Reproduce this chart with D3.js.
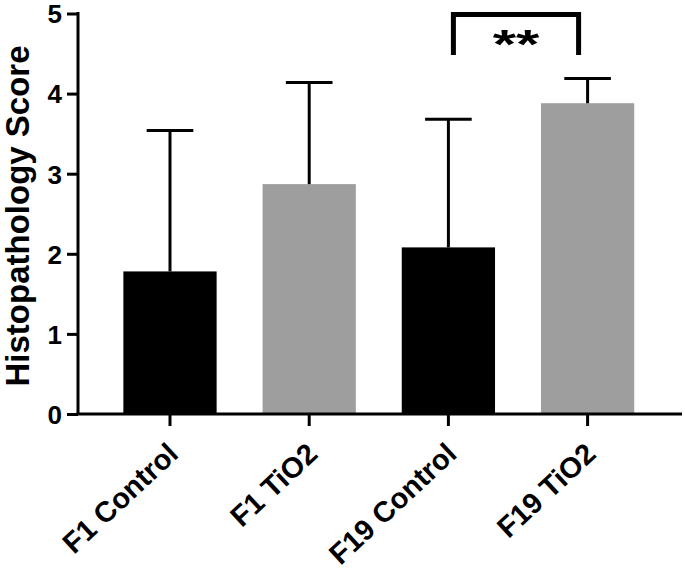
<!DOCTYPE html>
<html>
<head>
<meta charset="utf-8">
<script src="https://cdn.jsdelivr.net/npm/d3@7/dist/d3.min.js"></script>
<style>
  html, body { margin: 0; padding: 0; background: #fff; }
  svg { display: block; }
  text { font-family: "Liberation Sans", Arial, sans-serif; font-weight: bold; fill: #000; }
</style>
</head>
<body>
<svg id="chart" width="685" height="574"></svg>
<script>
const categories = ["F1 Control", "F1 TiO2", "F19 Control", "F19 TiO2"];
const means = [1.78, 2.87, 2.08, 3.88];
const errorTops = [3.54, 4.14, 3.68, 4.19];
const barColors = ["#000000", "#9e9e9e", "#000000", "#9e9e9e"];
const yTicks = [0, 1, 2, 3, 4, 5];
const yTitle = "Histopathology Score";
const sigLabel = "**";
const sigPair = ["F19 Control", "F19 TiO2"];
const sigLevel = 5.0;

const svg = d3.select("#chart");
const axisX = 78, y0px = 414, y5px = 13.5;

const x = d3.scaleBand().domain(categories).range([100.4, 657.2]).paddingInner(0.33).paddingOuter(0.165);
const y = d3.scaleLinear().domain([0, 5]).range([y0px, y5px]);

// bars
svg.selectAll("rect.bar").data(categories).enter().append("rect")
  .attr("class", "bar")
  .attr("x", d => x(d))
  .attr("width", x.bandwidth())
  .attr("y", (d, i) => y(means[i]))
  .attr("height", (d, i) => y(0) - y(means[i]))
  .attr("fill", (d, i) => barColors[i]);

// error bars (upper only)
const capW = x.bandwidth() / 2;
const eb = svg.selectAll("g.err").data(categories).enter().append("g").attr("class", "err");
eb.append("line")
  .attr("x1", d => x(d) + x.bandwidth() / 2).attr("x2", d => x(d) + x.bandwidth() / 2)
  .attr("y1", (d, i) => y(means[i])).attr("y2", (d, i) => y(errorTops[i]))
  .attr("stroke", "#000").attr("stroke-width", 3);
eb.append("line")
  .attr("x1", d => x(d) + x.bandwidth() / 2 - capW / 2).attr("x2", d => x(d) + x.bandwidth() / 2 + capW / 2)
  .attr("y1", (d, i) => y(errorTops[i])).attr("y2", (d, i) => y(errorTops[i]))
  .attr("stroke", "#000").attr("stroke-width", 3);

// y axis
const yAxis = d3.axisLeft(y).tickValues(yTicks).tickFormat(d3.format("d")).tickSize(11).tickSizeOuter(0).tickPadding(5);
const gy = svg.append("g").attr("transform", `translate(${axisX},0)`).call(yAxis);
gy.select(".domain").attr("stroke", "#000").attr("stroke-width", 3).attr("d", `M0,${y(0)}V${y(5) - 1.5}`);
gy.selectAll(".tick line").attr("stroke", "#000").attr("stroke-width", 3);
gy.selectAll(".tick text").style("font-size", "26px").style("font-family", "'Liberation Sans', Arial, sans-serif").style("font-weight", "bold")
  .attr("fill", "#000").attr("dy", "0.36em");

// x axis
const xAxis = d3.axisBottom(x).tickSize(12).tickSizeOuter(0).tickPadding(8);
const gx = svg.append("g").attr("transform", `translate(0,${y0px})`).call(xAxis);
gx.select(".domain").attr("stroke", "#000").attr("stroke-width", 3).attr("d", `M${axisX - 1.5},0H682`);
gx.selectAll(".tick line").attr("stroke", "#000").attr("stroke-width", 3);
gx.selectAll(".tick text")
  .style("font-size", "29px").style("font-family", "'Liberation Sans', Arial, sans-serif").style("font-weight", "bold")
  .attr("fill", "#000")
  .attr("text-anchor", "end")
  .attr("dy", "0")
  .attr("transform", "translate(10,42) rotate(-43)")
  .attr("y", 0).attr("x", 0);

// y title
svg.append("text")
  .attr("transform", `translate(29,216) rotate(-90)`)
  .attr("text-anchor", "middle")
  .style("font-size", "33px")
  .text(yTitle);

// significance bracket
const bx1 = x(sigPair[0]) + x.bandwidth() / 2 + 5;
const bx2 = x(sigPair[1]) + x.bandwidth() / 2 - 9;
const by = 14.5;
const byEnd = 55;
svg.append("path")
  .attr("d", `M${bx1},${byEnd}V${by}H${bx2}V${byEnd}`)
  .attr("fill", "none").attr("stroke", "#000").attr("stroke-width", 5).attr("stroke-linejoin", "miter");
svg.append("text")
  .attr("transform", `translate(${(bx1 + bx2) / 2},58) scale(1.5,1)`)
  .attr("text-anchor", "middle")
  .style("font-size", "40px")
  .text(sigLabel);
</script>
</body>
</html>
